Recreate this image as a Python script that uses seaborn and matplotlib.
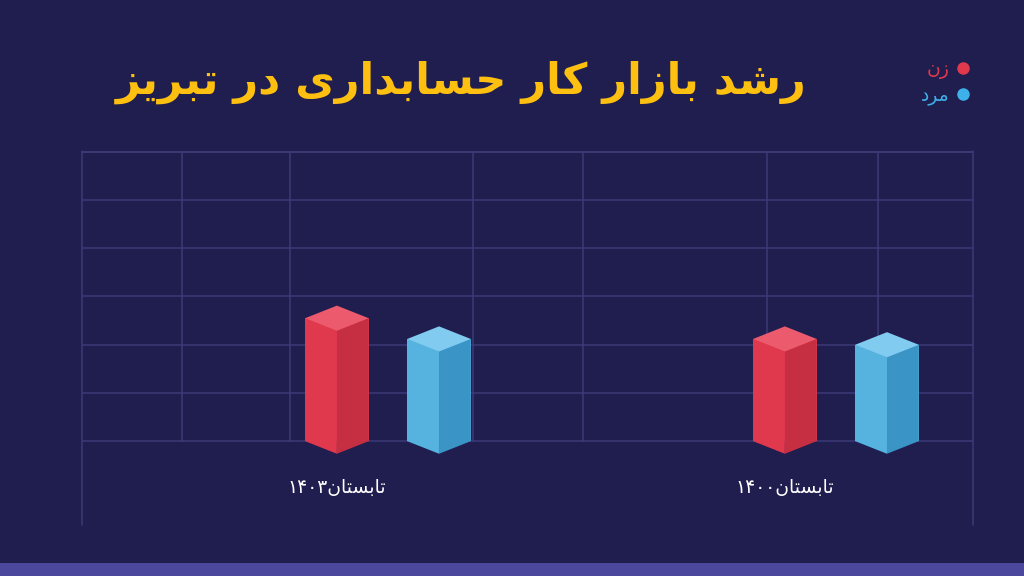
import numpy as np
import pandas as pd
import matplotlib
matplotlib.use("Agg")
import matplotlib.pyplot as plt
from matplotlib.lines import Line2D
from matplotlib.patches import Polygon, Rectangle
from matplotlib.transforms import blended_transform_factory
import seaborn as sns

# ---------------- data ----------------
title_text = "رشد بازار کار حسابداری در تبریز"
periods = ["تابستان۱۴۰۳", "تابستان۱۴۰۰"]          # left to right as displayed
genders = ["زن", "مرد"]                           # woman, man
women_values = [2.55, 2.12]
men_values = [2.12, 2.0]

# ---------------- simple Persian shaping for matplotlib ----------------
FORMS = {
    'ا': ('\uFE8D', '\uFE8E', None, None),
    'ب': ('\uFE8F', '\uFE90', '\uFE91', '\uFE92'),
    'ت': ('\uFE95', '\uFE96', '\uFE97', '\uFE98'),
    'ح': ('\uFEA1', '\uFEA2', '\uFEA3', '\uFEA4'),
    'د': ('\uFEA9', '\uFEAA', None, None),
    'ر': ('\uFEAD', '\uFEAE', None, None),
    'ز': ('\uFEAF', '\uFEB0', None, None),
    'س': ('\uFEB1', '\uFEB2', '\uFEB3', '\uFEB4'),
    'ش': ('\uFEB5', '\uFEB6', '\uFEB7', '\uFEB8'),
    'م': ('\uFEE1', '\uFEE2', '\uFEE3', '\uFEE4'),
    'ن': ('\uFEE5', '\uFEE6', '\uFEE7', '\uFEE8'),
    'ک': ('\uFB8E', '\uFB8F', '\uFB90', '\uFB91'),
    'ی': ('\uFBFC', '\uFBFD', '\uFBFE', '\uFBFF'),
}
DIGITS = set("۰۱۲۳۴۵۶۷۸۹0123456789")


def shape(s):
    out = []
    for i, ch in enumerate(s):
        if ch not in FORMS:
            out.append(ch)
            continue
        prev = s[i - 1] if i > 0 else ''
        nxt = s[i + 1] if i + 1 < len(s) else ''
        jp = prev in FORMS and FORMS[prev][2] is not None
        jn = nxt in FORMS and FORMS[ch][2] is not None
        iso, fin, ini, med = FORMS[ch]
        if jp and jn:
            out.append(med)
        elif jp:
            out.append(fin)
        elif jn:
            out.append(ini)
        else:
            out.append(iso)
    # visual (left-to-right) order: reverse runs, keep digit runs LTR
    runs = []
    for ch in out:
        isd = ch in DIGITS
        if runs and runs[-1][0] == isd:
            runs[-1][1].append(ch)
        else:
            runs.append([isd, [ch]])
    vis = []
    for isd, chars in reversed(runs):
        vis.append(''.join(chars) if isd else ''.join(reversed(chars)))
    return ''.join(vis)


# ---------------- colours ----------------
BG = "#201d4f"
GRID = "#3c3b78"
RED = {"left": "#e0394d", "right": "#c52f41", "top": "#ec5a6d"}
BLUE = {"left": "#56b3e0", "right": "#3a94c6", "top": "#80cbef"}
YELLOW = "#fdc010"

df = pd.DataFrame({
    "period": periods * 2,
    "gender": [genders[0]] * len(periods) + [genders[1]] * len(periods),
    "value": women_values + men_values,
})

sns.set_theme(style="white")
plt.rcParams["font.family"] = ["DejaVu Sans"]

fig = plt.figure(figsize=(10.24, 5.76), dpi=100, facecolor=BG)
W, H = 1024, 576
ax = fig.add_axes([82 / W, 1 - 525 / H, (973 - 82) / W, (525 - 150.7) / H])
ax.set_facecolor(BG)

sns.barplot(data=df, x="period", y="value", hue="gender",
            order=periods, hue_order=genders,
            palette=[RED["left"], BLUE["left"]],
            width=0.456, gap=0.38, legend=False, ax=ax,
            errorbar=None, saturation=1, zorder=3, linewidth=0)

ax.set_xlim(-0.683, 1.306)
ax.set_ylim(-1.736, 6.02)

# grid
ax.set_yticks(range(0, 7))
ax.yaxis.grid(True, color=GRID, linewidth=1.1, zorder=0)
ax.xaxis.grid(False)
ax.tick_params(left=False, bottom=False, labelleft=False, labelbottom=False)
ax.set_xlabel("")
ax.set_ylabel("")
for sp in ax.spines.values():
    sp.set_visible(False)

btr = blended_transform_factory(ax.transAxes, ax.transData)
inner_px = [182, 290, 473, 583, 767, 878]
for px in inner_px:
    fx = (px - 82) / (973 - 82)
    ax.plot([fx, fx], [0, 6], color=GRID, lw=1.1, transform=btr, zorder=0)
for fx in [0.0, 1.0]:
    ax.plot([fx, fx], [0, 1], color=GRID, lw=1.1, transform=ax.transAxes,
            zorder=0, clip_on=False)
ax.plot([0, 1], [6, 6], color=GRID, lw=1.1, transform=btr, zorder=0, clip_on=False)

# 3D prism faces built from seaborn's bars
d = 0.26
bars = [p for p in ax.patches if isinstance(p, Rectangle)]
for p in bars:
    x0 = p.get_x()
    w = p.get_width()
    h = p.get_height()
    m = x0 + w / 2
    x1 = x0 + w
    col = RED if p.get_facecolor()[2] < 0.5 else BLUE
    ax.add_patch(Polygon([(x0, 0), (m, -d), (m, h - d), (x0, h)], closed=True,
                         facecolor=col["left"], edgecolor="none", zorder=4))
    ax.add_patch(Polygon([(m, -d), (x1, 0), (x1, h), (m, h - d)], closed=True,
                         facecolor=col["right"], edgecolor="none", zorder=4))
    ax.add_patch(Polygon([(x0, h), (m, h + d), (x1, h), (m, h - d)], closed=True,
                         facecolor=col["top"], edgecolor="none", zorder=5))

# category labels under the first bar of each group
for i, lab in enumerate(periods):
    p = bars[i]
    cx = p.get_x() + p.get_width() / 2
    ax.text(cx, -0.95, shape(lab), ha="center", va="center",
            color="white", fontsize=13.5)

# title
fig.text(461 / W, 1 - 82 / H, shape(title_text), ha="center", va="center",
         color=YELLOW, fontsize=31, fontweight="bold")

# legend (marker on the right, RTL style)
handles = [Line2D([], [], marker="o", linestyle="", markersize=8,
                  color=RED["left"]),
           Line2D([], [], marker="o", linestyle="", markersize=8,
                  color="#3fb1ea")]
fig.legend(handles, [shape(g) for g in genders], loc="upper right",
           bbox_to_anchor=(980 / W, 1 - 50 / H), frameon=False,
           markerfirst=False, handlelength=0.8, handletextpad=0.3,
           borderpad=0, labelspacing=0.35, fontsize=13.5,
           labelcolor=[RED["left"], "#3fb1ea"])

# bottom stripe
fig.patches.append(Rectangle((0, 0), 1, 13 / H, transform=fig.transFigure,
                             facecolor="#4b479c", edgecolor="none"))

fig.savefig("out.png", dpi=100, facecolor=BG)
